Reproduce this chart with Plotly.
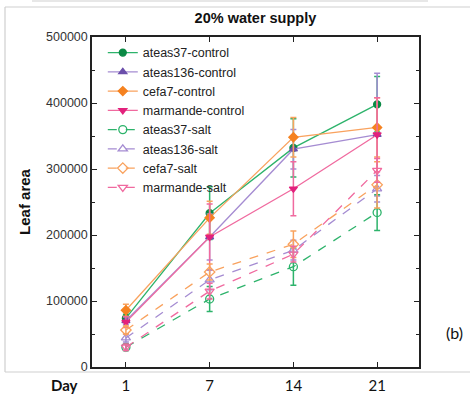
import plotly.graph_objects as go

days = ["1", "7", "14", "21"]

series_names = [
    "ateas37-control", "ateas136-control", "cefa7-control", "marmande-control",
    "ateas37-salt", "ateas136-salt", "cefa7-salt", "marmande-salt",
]

ateas37_control = [74000, 233000, 332000, 398000]
ateas136_control = [70000, 197000, 330000, 352000]
cefa7_control = [86000, 226000, 348000, 363000]
marmande_control = [68000, 197000, 270000, 352000]
ateas37_salt = [30000, 103000, 152000, 234000]
ateas136_salt = [44000, 132000, 177000, 270000]
cefa7_salt = [56000, 144000, 186000, 276000]
marmande_salt = [30000, 115000, 171000, 298000]

ateas37_control_err = [6000, 40000, 44000, 42000]
ateas136_control_err = [6000, 35000, 30000, 93000]
cefa7_control_err = [9000, 25000, 30000, 45000]
marmande_control_err = [8000, 50000, 41000, 56000]
ateas37_salt_err = [5000, 19000, 28000, 27000]
ateas136_salt_err = [6000, 15000, 15000, 20000]
cefa7_salt_err = [6000, 12000, 20000, 35000]
marmande_salt_err = [5000, 12000, 12000, 18000]

values = [ateas37_control, ateas136_control, cefa7_control, marmande_control,
          ateas37_salt, ateas136_salt, cefa7_salt, marmande_salt]
errors = [ateas37_control_err, ateas136_control_err, cefa7_control_err, marmande_control_err,
          ateas37_salt_err, ateas136_salt_err, cefa7_salt_err, marmande_salt_err]

line_colors = ["#2db36b", "#a58cd2", "#f9a25e", "#f06a9f"]
marker_colors = ["#0b8a45", "#6b4fab", "#f58220", "#e2217c"]
filled_symbols = ["circle", "triangle-up", "diamond", "triangle-down"]
open_symbols = ["circle-open", "triangle-up-open", "diamond-open", "triangle-down-open"]

fig = go.Figure()
for i, (name, y, e) in enumerate(zip(series_names, values, errors)):
    k = i % 4
    salt = i >= 4
    fig.add_trace(go.Scatter(
        x=days, y=y, name=name, mode="lines+markers",
        line=dict(color=line_colors[k], width=1.3, dash="dash" if salt else "solid"),
        marker=dict(symbol=open_symbols[k] if salt else filled_symbols[k],
                    color=line_colors[k] if salt else marker_colors[k],
                    size=8 if salt else 7,
                    line=dict(color=line_colors[k] if salt else marker_colors[k], width=1.3)),
        error_y=dict(type="data", array=e, visible=True, color=line_colors[k],
                     thickness=1.5, width=3),
    ))

fig.update_layout(
    width=470, height=399,
    margin=dict(l=92, r=51, t=37, b=32),
    paper_bgcolor="white", plot_bgcolor="white",
    font=dict(family="Liberation Sans, Arial, sans-serif", color="#222"),
    showlegend=True,
    legend=dict(x=0.033, y=0.997, xanchor="left", yanchor="top",
                bgcolor="rgba(0,0,0,0)", font=dict(size=12.5, color="#222"),
                tracegroupgap=0, itemwidth=30),
    title=dict(text="<b>20% water supply</b>", x=0.5435, xanchor="center",
               y=0.955, yanchor="middle", font=dict(size=14.5, color="#111")),
)

fig.update_xaxes(
    type="category", range=[-0.405, 3.5], automargin=False,
    showline=True, linecolor="#222", linewidth=1.5, mirror="ticks",
    ticks="inside", ticklen=5, tickcolor="#222", tickwidth=1.2,
    tickfont=dict(family="Lato, sans-serif", size=15, color="#111"),
    ticklabelstandoff=4, showgrid=False, zeroline=False,
)
fig.update_yaxes(
    range=[0, 500000], dtick=100000, tickformat="d", automargin=False,
    showline=True, linecolor="#222", linewidth=1.5, mirror="ticks",
    ticks="inside", ticklen=5, tickcolor="#222", tickwidth=1.2,
    minor=dict(ticks="inside", ticklen=3, dtick=50000, tickcolor="#222", tickwidth=1),
    tickfont=dict(size=12.5, color="#333"),
    title=dict(text="<b>Leaf area</b>", font=dict(size=15, color="#111"), standoff=12),
    showgrid=False, zeroline=False,
)

fig.add_annotation(text="<b>Day</b>", xref="paper", yref="paper", x=-0.085, y=0.0,
                   xanchor="center", yanchor="top", yshift=-7, showarrow=False,
                   font=dict(family="Lato, sans-serif", size=15, color="#111"))
fig.add_annotation(text="(b)", xref="paper", yref="paper", x=1.11, y=0.105,
                   xanchor="center", yanchor="middle", showarrow=False,
                   font=dict(family="Lato, sans-serif", size=16, color="#111"))

# light frame lines around the panel
frame = dict(type="line", xref="paper", yref="paper", line=dict(color="#cfcfcf", width=1.2))
px_x = lambda v: (v - 92) / 327
px_y = lambda v: (367 - v) / 330
fig.add_shape(x0=px_x(32), x1=px_x(428), y0=px_y(1), y1=px_y(1), **frame)
fig.add_shape(x0=px_x(5), x1=px_x(470), y0=px_y(7), y1=px_y(7), **frame)
fig.add_shape(x0=px_x(5), x1=px_x(5), y0=px_y(7), y1=px_y(372), **frame)
fig.add_shape(x0=px_x(5), x1=px_x(470), y0=px_y(372), y1=px_y(372), **frame)

fig.write_html("out.html")
